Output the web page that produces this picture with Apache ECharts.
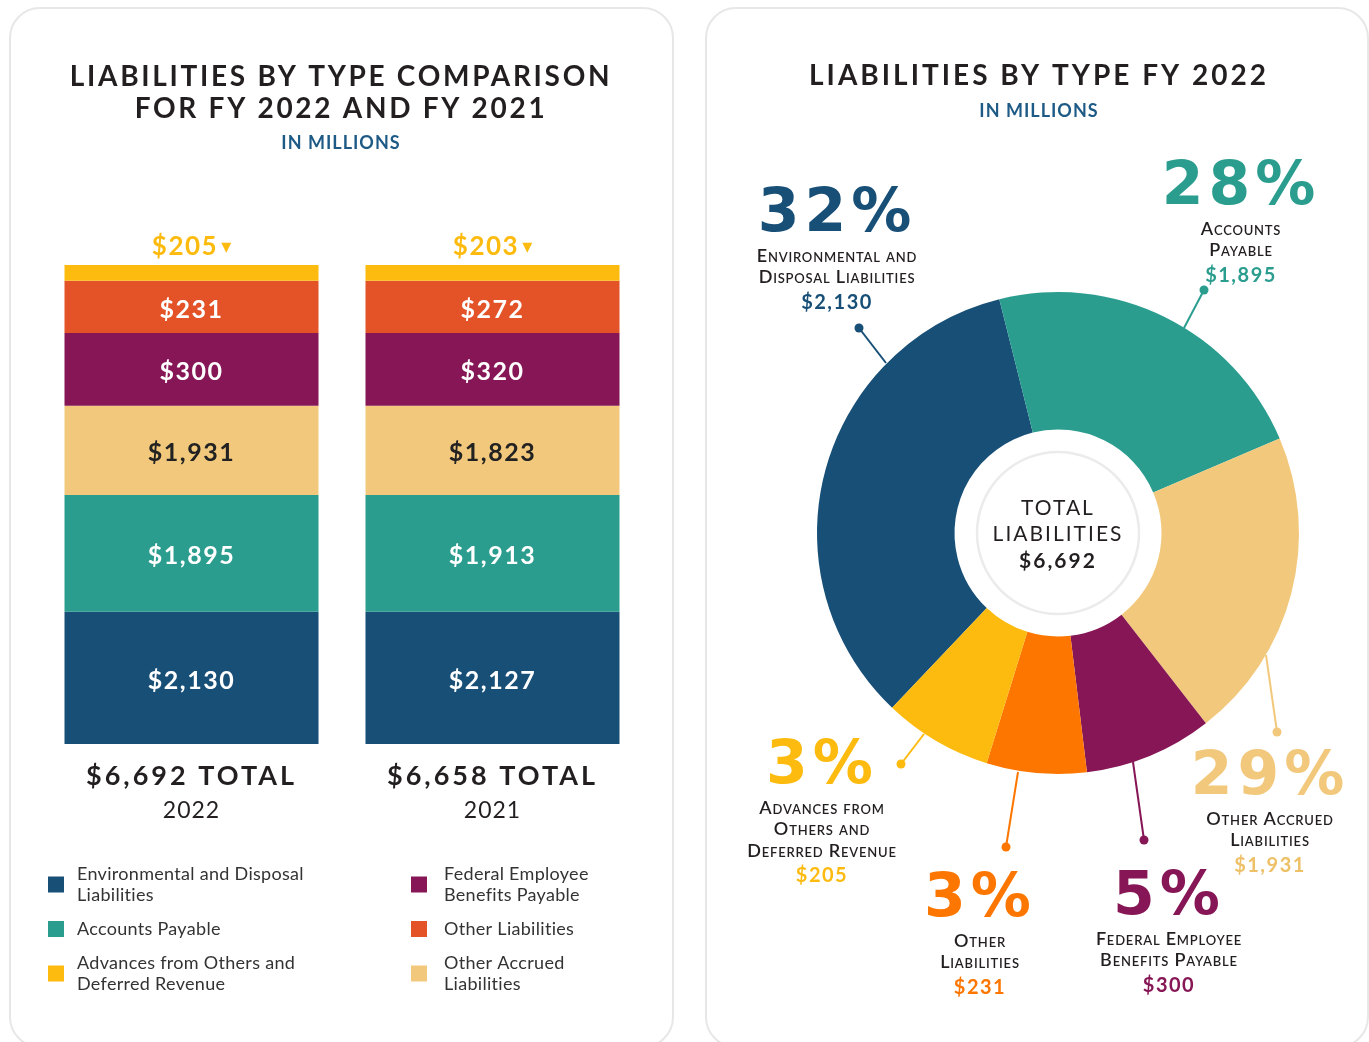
<!DOCTYPE html>
<html>
<head>
<meta charset="utf-8">
<title>Liabilities by Type</title>
<script src="https://cdn.jsdelivr.net/npm/echarts@6.0.0/dist/echarts.min.js"></script>
<style>
  html, body { margin: 0; background: #fff; }
  #chart { width: 1369px; height: 1042px; }
</style>
</head>
<body>
<div id="chart"></div>
<script>
// bottom of the stack first, and clockwise round the donut
const categories = [
  'Environmental and Disposal Liabilities',
  'Accounts Payable',
  'Other Accrued Liabilities',
  'Federal Employee Benefits Payable',
  'Other Liabilities',
  'Advances from Others and Deferred Revenue'
];
const legendText = [
  'Environmental and Disposal\nLiabilities',
  'Accounts Payable',
  'Other Accrued\nLiabilities',
  'Federal Employee\nBenefits Payable',
  'Other Liabilities',
  'Advances from Others and\nDeferred Revenue'
];
const donutText = [
  'Environmental and\nDisposal Liabilities',
  'Accounts\nPayable',
  'Other Accrued\nLiabilities',
  'Federal Employee\nBenefits Payable',
  'Other\nLiabilities',
  'Advances from\nOthers and\nDeferred Revenue'
];
const years = ['2022', '2021'];
const fy2022 = [2130, 1895, 1931, 300, 231, 205];
const fy2021 = [2127, 1913, 1823, 320, 272, 203];
const pctLabels = [32, 28, 29, 5, 3, 3];

// the original does not draw to scale: segments and slices have fixed sizes,
// so these shares are read off the picture (percent of bar height / of the ring)
const barShare = [27.6, 24.4, 18.6, 15.2, 10.9, 3.3];
const donutShare = [34.0, 22.5, 20.9, 8.6, 6.7, 7.3];

const barColors = ['#174f77', '#2a9d8f', '#f2c97c', '#861655', '#e45228', '#fdbb10'];
const donutColors = ['#174f77', '#2a9d8f', '#f2c97c', '#861655', '#fd7600', '#fdbb10'];
const amountColors = ['#174f77', '#2a9d8f', '#eec068', '#861655', '#fd7600', '#fdbb10'];

// echarts has no letter-spacing or small-caps option: a dummy family name in the font string turns them on
const fontProp = Object.getOwnPropertyDescriptor(CanvasRenderingContext2D.prototype, 'font');
Object.defineProperty(CanvasRenderingContext2D.prototype, 'font', {
  get: fontProp.get,
  set(v) {
    fontProp.set.call(this, v);
    const m = /ls(\d+)_?(\d*)/.exec(v);
    this.letterSpacing = m ? (m[1] + '.' + (m[2] || '0')) + 'px' : '0px';
    this.fontVariantCaps = v.indexOf('smallcaps') > -1 ? 'small-caps' : 'normal';
  }
});

const fmt = v => '$' + v.toLocaleString('en-US');
const sum = a => a.reduce((s, v) => s + v, 0);
const byYear = [fy2022, fy2021];
const totals = byYear.map(sum);

const chart = echarts.init(document.getElementById('chart'));

const barSeries = categories.map((name, i) => {
  let label = {
    show: true,
    position: 'inside',
    offset: [0, 3],
    formatter: p => fmt(byYear[p.dataIndex][i]),
    color: i === 2 ? '#222' : '#fff',
    fontFamily: 'Lato, ls1_5',
    fontWeight: 'bold',
    fontSize: 25
  };
  if (i === 5) {
    label = {
      show: true,
      position: 'top',
      distance: 5,
      formatter: p => '{v|' + fmt(byYear[p.dataIndex][i]) + '}{t|▾}',
      rich: {
        v: { color: '#fdbb10', fontFamily: 'Lato, ls1_5', fontWeight: 'bold', fontSize: 26 },
        t: { color: '#fdbb10', fontFamily: 'DejaVu Sans', fontSize: 20, padding: [4, 0, 0, 3] }
      }
    };
  }
  return {
    name: name,
    type: 'bar',
    stack: 'liab',
    barWidth: 254,
    data: [barShare[i], barShare[i]],
    itemStyle: { color: barColors[i] },
    label: label,
    emphasis: { disabled: true }
  };
});

// annotation layout round the donut: big percent centre, leader line from ring to dot
const notes = [
  { x: 837, y: 210, from: [886, 363], to: [859, 328] },
  { x: 1241, y: 183, from: [1184, 328], to: [1204, 290] },
  { x: 1270, y: 773, from: [1266, 655], to: [1277, 732] },
  { x: 1169, y: 893, from: [1133, 762], to: [1144, 840] },
  { x: 980, y: 895, from: [1018, 772], to: [1006, 847] },
  { x: 822, y: 762, from: [924, 734], to: [901, 764] }
];

const titleStyle = { align: 'center', verticalAlign: 'middle', fontFamily: 'Lato, ls2_7', fontWeight: 'bold', fontSize: 28, fill: '#231f20' };
const unitStyle = { text: 'IN MILLIONS', align: 'center', verticalAlign: 'middle', fontFamily: 'Lato, ls1', fontWeight: 'bold', fontSize: 18, fill: '#1d5a85' };

const graphics = [
  { type: 'rect', z: -1, shape: { x: 10, y: 8, width: 663, height: 1039, r: 30 }, style: { fill: '#fff', stroke: '#e7e7e7', lineWidth: 2 } },
  { type: 'rect', z: -1, shape: { x: 706, y: 8, width: 662, height: 1039, r: 30 }, style: { fill: '#fff', stroke: '#e7e7e7', lineWidth: 2 } },
  { type: 'text', x: 341, y: 93, style: Object.assign({ text: 'LIABILITIES BY TYPE COMPARISON\nFOR FY 2022 AND FY 2021', lineHeight: 32 }, titleStyle) },
  { type: 'text', x: 341, y: 143, style: unitStyle },
  { type: 'text', x: 1039, y: 76, style: Object.assign({ text: 'LIABILITIES BY TYPE FY 2022' }, titleStyle, { fontFamily: 'Lato, ls3' }) },
  { type: 'text', x: 1039, y: 111, style: unitStyle },
  { type: 'circle', shape: { cx: 1058, cy: 533, r: 81 }, style: { fill: 'none', stroke: '#ebebeb', lineWidth: 2.5 } },
  {
    type: 'text', x: 1058, y: 534.5,
    style: {
      text: '{a|TOTAL}\n{a|LIABILITIES}\n{b|' + fmt(totals[0]) + '}',
      align: 'center', verticalAlign: 'middle',
      rich: {
        a: { fontFamily: 'Lato, ls2', fontSize: 21, lineHeight: 26.5, fill: '#231f20' },
        b: { fontFamily: 'Lato, ls2', fontWeight: 'bold', fontSize: 21, lineHeight: 26.5, fill: '#231f20' }
      }
    }
  }
];

notes.forEach((n, i) => {
  const c = donutColors[i];
  graphics.push({ type: 'line', shape: { x1: n.from[0], y1: n.from[1], x2: n.to[0], y2: n.to[1] }, style: { stroke: c, lineWidth: 2 } });
  graphics.push({ type: 'circle', shape: { cx: n.to[0], cy: n.to[1], r: 4.5 }, style: { fill: c } });
  graphics.push({
    type: 'text', x: n.x, y: n.y + 5,
    style: { text: pctLabels[i] + '%', align: 'center', verticalAlign: 'middle',
      fontFamily: 'DejaVu Sans, ls5', fontWeight: 'bold', fontSize: 60, fill: c }
  });
  const nameLines = donutText[i].split('\n').map(s => '{n|' + s + '}').join('\n');
  graphics.push({
    type: 'text', x: n.x, y: n.y + 35,
    style: {
      text: nameLines + '\n{v|' + fmt(fy2022[i]) + '}',
      align: 'center', verticalAlign: 'top',
      rich: {
        n: { fontFamily: 'Lato, smallcaps, ls0_8', fontWeight: 600, fontSize: 18, lineHeight: 21.5, fill: '#231f20' },
        v: { fontFamily: 'Lato, ls1_5', fontWeight: 'bold', fontSize: 20, lineHeight: 28.5, fill: amountColors[i] }
      }
    }
  });
});

const legendBase = {
  orient: 'vertical',
  top: 863.5,
  padding: 0,
  itemHeight: 16,
  itemGap: 13,
  icon: 'path://M0 0H16V16H0Z',
  selectedMode: false,
  formatter: name => legendText[categories.indexOf(name)],
  textStyle: { fontFamily: 'Lato, ls0_3', fontSize: 18, lineHeight: 21, color: '#333' }
};

chart.setOption({
  animation: false,
  legend: [
    Object.assign({}, legendBase, { left: 48, itemWidth: 32, data: [categories[0], categories[1], categories[5]] }),
    Object.assign({}, legendBase, { left: 411, itemWidth: 40, data: [categories[3], categories[4], categories[2]] })
  ],
  grid: { left: 41, width: 602, top: 265, height: 479 },
  xAxis: {
    type: 'category',
    data: years,
    axisLine: { show: false },
    axisTick: { show: false },
    axisLabel: {
      margin: 15,
      formatter: (v, idx) => '{t|' + fmt(totals[idx]) + ' TOTAL}\n{y|' + v + '}',
      rich: {
        t: { fontFamily: 'Lato, ls3', fontWeight: 'bold', fontSize: 27, lineHeight: 35, color: '#231f20' },
        y: { fontFamily: 'Lato, ls1', fontSize: 23, lineHeight: 33, color: '#231f20' }
      }
    }
  },
  yAxis: { type: 'value', min: 0, max: 100, show: false },
  series: barSeries.concat([{
    name: 'FY 2022',
    type: 'pie',
    center: [1058, 533],
    radius: [103.5, 241],
    startAngle: 226.5,
    silent: true,
    label: { show: false },
    labelLine: { show: false },
    itemStyle: { borderWidth: 0 },
    emphasis: { disabled: true },
    data: categories.map((name, i) => ({ name: name, value: donutShare[i], itemStyle: { color: donutColors[i] } }))
  }]),
  graphic: graphics
});
</script>
</body>
</html>
